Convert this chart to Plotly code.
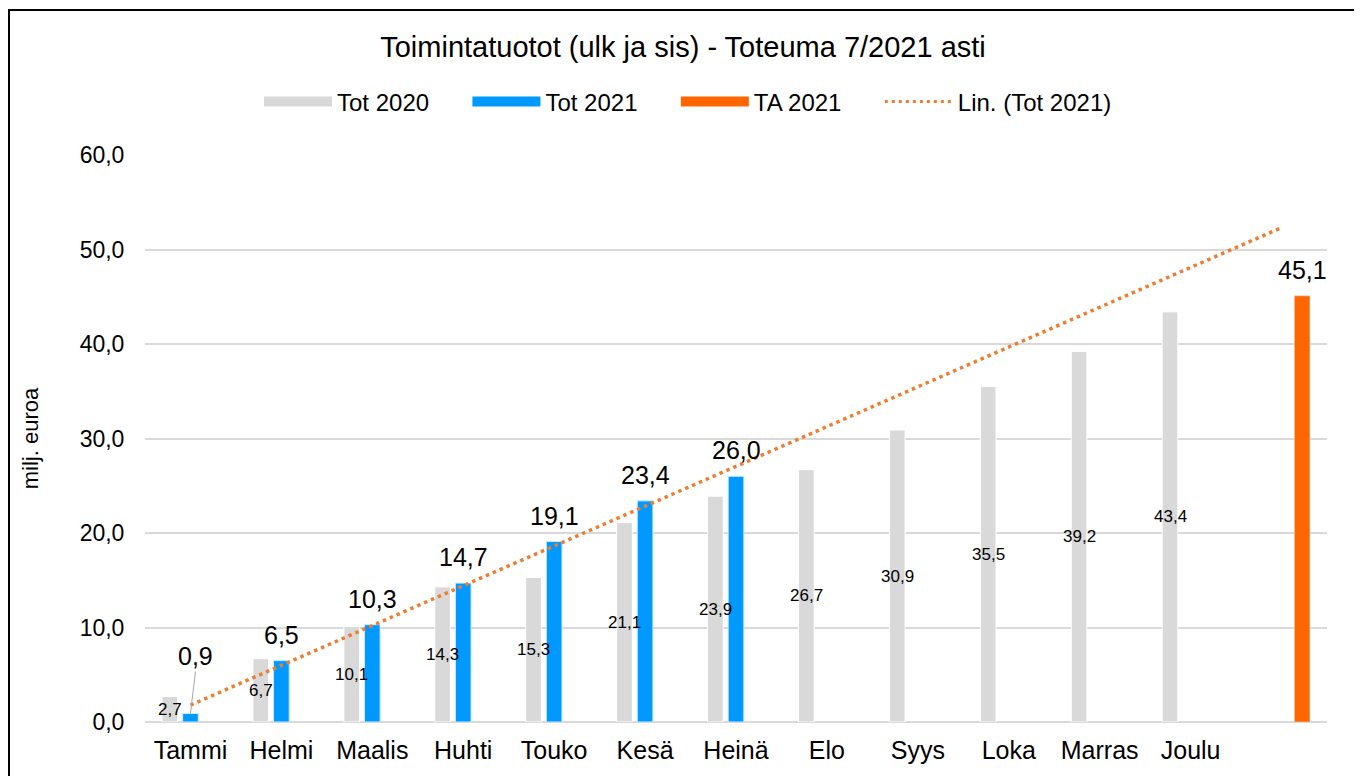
import numpy as np
import plotly.graph_objects as go

months = ["Tammi", "Helmi", "Maalis", "Huhti", "Touko", "Kesä", "Heinä",
          "Elo", "Syys", "Loka", "Marras", "Joulu"]
tot2020 = [2.7, 6.7, 10.1, 14.3, 15.3, 21.1, 23.9, 26.7, 30.9, 35.5, 39.2, 43.4]
tot2021 = [0.9, 6.5, 10.3, 14.7, 19.1, 23.4, 26.0]
ta2021 = [45.1]
y_ticks = [0, 10, 20, 30, 40, 50, 60]

GREY = "#D9D9D9"
BLUE = "#0099FF"
ORANGE = "#FF6600"
TREND = "#ED7D31"
FONT = "Liberation Sans, Arial, sans-serif"

x20 = list(range(1, len(tot2020) + 1))
x21 = list(range(1, len(tot2021) + 1))
xta = [len(months) + 1]

# linear trend of Tot 2021, forecast to the last category
coef = np.polyfit(x21, tot2021, 1)
xtr = list(range(1, len(months) + 2))
ytr = list(np.polyval(coef, xtr))

fmt = lambda v: f"{v:.1f}".replace(".", ",")

# the page body adds an 8px offset; layout numbers below are in figure px
L, R, T, B = 137, 43, 147, 62
PW, PH = 1362 - L - R, 776 - T - B
BARGAP, GROUPGAP = 0.32, 0.24
SLOT_PX = (1 - BARGAP) * PW / (len(months) + 1) / 3

fig = go.Figure()
fig.add_trace(go.Bar(x=x20, y=tot2020, name="Tot 2020", marker_color=GREY,
                     marker_line=dict(color="white", width=1),
                     showlegend=False, hoverinfo="skip"))
fig.add_trace(go.Bar(x=x21, y=tot2021, name="Tot 2021", marker_color=BLUE,
                     marker_line=dict(color="#CCEBFF", width=1),
                     showlegend=False))
fig.add_trace(go.Bar(x=xta, y=ta2021, name="TA 2021", marker_color=ORANGE,
                     showlegend=False))
fig.add_trace(go.Scatter(x=xtr, y=ytr, mode="lines", name="Lin. (Tot 2021)",
                         line=dict(color=TREND, width=3.5, dash="3.5px,4px"),
                         showlegend=False))

# legend entries (wide swatches)
PAD = "\u00a0" * 5
for nm, col, w, dash in [("Tot 2020" + PAD, GREY, 12, "solid"),
                         ("Tot 2021" + PAD, BLUE, 12, "solid"),
                         ("TA 2021" + PAD, ORANGE, 12, "solid"),
                         ("Lin. (Tot 2021)", TREND, 3, "3px,4px")]:
    fig.add_trace(go.Scatter(x=[None], y=[None], mode="lines", name=nm,
                             line=dict(color=col, width=w, dash=dash)))

# value labels inside Tot 2020 bars (centred)
for xv, v in zip(x20, tot2020):
    fig.add_annotation(x=xv, y=v / 2, text=fmt(v), showarrow=False,
                       xshift=-SLOT_PX, font=dict(size=17, color="black", family=FONT))

# value labels above Tot 2021 bars
for i, (xv, v) in enumerate(zip(x21, tot2021)):
    if i == 0:
        fig.add_annotation(x=xv, y=v, text=fmt(v), showarrow=True, arrowhead=0,
                           arrowwidth=1, arrowcolor="#A6A6A6", ax=5, ay=-42,
                           yanchor="bottom", font=dict(size=25, color="black", family=FONT))
    else:
        fig.add_annotation(x=xv, y=v, text=fmt(v), showarrow=False, yanchor="bottom",
                           yshift=10, font=dict(size=25, color="black", family=FONT))
for xv, v in zip(xta, ta2021):
    fig.add_annotation(x=xv, y=v, text=fmt(v), showarrow=False, yanchor="bottom",
                       yshift=10, xshift=SLOT_PX, font=dict(size=25, color="black", family=FONT))

fig.update_layout(
    width=1362, height=776,
    paper_bgcolor="white", plot_bgcolor="white",
    margin=dict(l=L, r=R, t=T, b=B, autoexpand=False),
    barmode="group", bargap=BARGAP, bargroupgap=GROUPGAP,
    separators=", ",
    font=dict(family=FONT, size=23, color="black"),
    title=dict(text="Toimintatuotot (ulk ja sis) - Toteuma 7/2021 asti",
               x=675 / 1362, xref="container", xanchor="center",
               y=1 - 39 / 776, yref="container", yanchor="middle",
               font=dict(size=29, color="black", family=FONT)),
    legend=dict(orientation="h", x=680 / 1362, xref="container", xanchor="center",
                y=1 - 94 / 776, yref="container", yanchor="middle",
                itemwidth=68,
                font=dict(size=24, color="black", family=FONT),
                bgcolor="rgba(0,0,0,0)"),
    xaxis=dict(range=[0.5, len(months) + 1.5], tickmode="array",
               tickvals=x20, ticktext=months, showgrid=False, zeroline=False,
               showline=False, ticks="outside", ticklen=6, tickcolor="rgba(0,0,0,0)",
               tickfont=dict(size=25)),
    yaxis=dict(range=[0, 60], tickvals=y_ticks, tickformat=".1f",
               showgrid=True, gridcolor="#D9D9D9", gridwidth=2,
               zeroline=True, zerolinecolor="#D9D9D9", zerolinewidth=2,
               ticks="outside", ticklen=15, tickcolor="rgba(0,0,0,0)",
               tickfont=dict(size=23),
               title=dict(text="milj. euroa", font=dict(size=22), standoff=34)),
    shapes=[dict(type="rect", xref="paper", yref="paper",
                 x0=(1 - L) / PW, x1=(1347 - L) / PW,
                 y0=-0.3, y1=(PH + T - 2) / PH,
                 line=dict(color="black", width=2), layer="above")],
)

fig.write_html("out.html")
